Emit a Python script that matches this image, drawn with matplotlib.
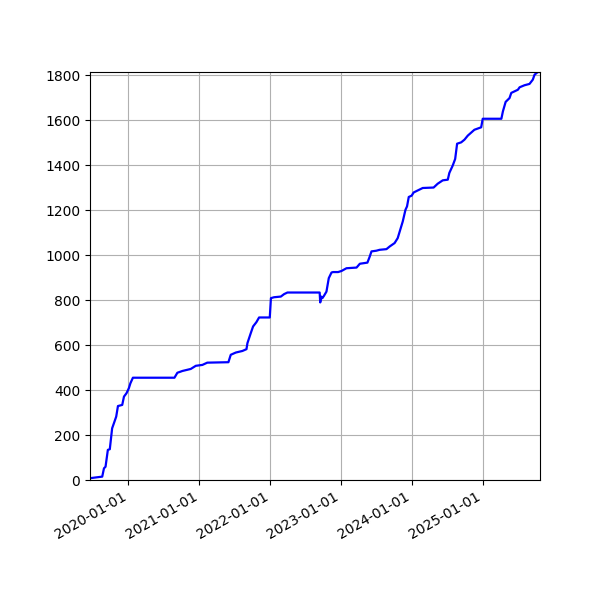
import matplotlib
matplotlib.use("Agg")
import matplotlib.pyplot as plt
import matplotlib.dates as mdates
from matplotlib.ticker import MultipleLocator
import pandas as pd

dates = [
    "2019-06-17", "2019-08-19", "2019-08-28", "2019-09-05", "2019-09-17", "2019-09-27",
    "2019-10-09", "2019-10-18", "2019-10-30", "2019-11-08", "2019-11-30", "2019-12-09",
    "2019-12-22", "2020-01-03", "2020-01-11", "2020-01-24", "2020-08-25", "2020-09-09",
    "2020-10-05", "2020-11-17", "2020-12-13", "2021-01-16", "2021-02-10", "2021-05-30",
    "2021-06-11", "2021-07-07", "2021-08-10", "2021-08-31", "2021-09-05", "2021-09-22",
    "2021-10-04", "2021-10-21", "2021-11-04", "2021-12-29", "2022-01-04", "2022-01-20",
    "2022-02-24", "2022-03-13", "2022-03-30", "2022-09-12", "2022-09-15", "2022-09-20",
    "2022-09-26", "2022-10-04", "2022-10-17", "2022-10-29", "2022-11-12", "2022-11-20",
    "2022-12-16", "2023-01-03", "2023-01-28", "2023-03-21", "2023-04-07", "2023-05-16",
    "2023-05-28", "2023-06-06", "2023-07-01", "2023-07-18", "2023-08-22", "2023-09-08",
    "2023-10-03", "2023-10-19", "2023-11-14", "2023-11-28", "2023-12-06", "2023-12-15",
    "2023-12-30", "2024-01-09", "2024-01-30", "2024-02-25", "2024-04-21", "2024-05-12",
    "2024-06-07", "2024-07-03", "2024-07-11", "2024-07-28", "2024-08-10", "2024-08-20",
    "2024-09-10", "2024-09-27", "2024-10-14", "2024-11-17", "2024-12-22", "2024-12-30",
    "2025-04-05", "2025-04-13", "2025-04-27", "2025-05-17", "2025-05-26", "2025-06-29",
    "2025-07-08", "2025-08-02", "2025-08-28", "2025-09-14", "2025-09-23", "2025-10-10",
    "2025-10-21",
]
values = [
    8, 15, 52, 59, 134, 137,
    230, 252, 282, 329, 334, 371,
    386, 408, 430, 455, 455, 477,
    485, 494, 508, 512, 522, 524,
    557, 567, 574, 582, 609, 653,
    683, 702, 723, 723, 809, 813,
    816, 827, 834, 834, 790, 816,
    809, 819, 838, 898, 923, 925,
    925, 930, 942, 945, 962, 967,
    994, 1017, 1020, 1024, 1027, 1039,
    1054, 1076, 1150, 1202, 1217, 1259,
    1265, 1279, 1288, 1299, 1301, 1318,
    1333, 1336, 1366, 1398, 1428, 1496,
    1502, 1514, 1532, 1558, 1569, 1607,
    1607, 1640, 1682, 1699, 1722, 1736,
    1747, 1756, 1762, 1781, 1803, 1815,
    1815,
]

x = pd.to_datetime(dates)

fig = plt.figure(figsize=(6, 6), dpi=100)
ax = fig.add_axes([0.15, 0.2, 0.75, 0.68])
ax.plot(x, values, color="blue", linewidth=1.6)
ax.xaxis.set_major_locator(mdates.YearLocator())
ax.xaxis.set_major_formatter(mdates.DateFormatter("%Y-%m-%d"))
ax.yaxis.set_major_locator(MultipleLocator(200))
ax.set_xlim(x[0], x[-1])
ax.set_ylim(0, max(values))
ax.grid(True)
for lbl in ax.get_xticklabels():
    lbl.set_rotation(30)
    lbl.set_ha("right")
fig.savefig("out.png", dpi=100)
